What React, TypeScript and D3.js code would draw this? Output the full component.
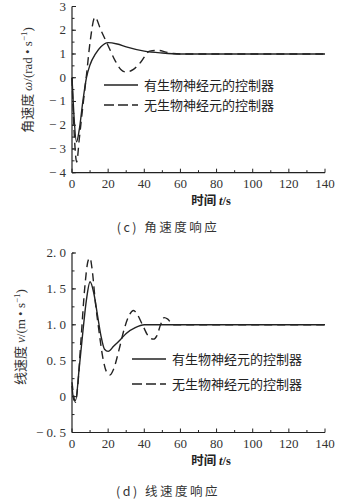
import * as d3 from 'd3'

const timeTicks = [0, 20, 40, 60, 80, 100, 120, 140]
const legendNames = ['有生物神经元的控制器', '无生物神经元的控制器']

// (c) angular velocity
const omegaTicks = [-4, -3, -2, -1, 0, 1, 2, 3]
const omegaBio: [number, number][] = [
  [0, 0], [1, -1.5], [2.5, -2.7], [4, -2.2], [6, -1.0], [8, 0], [10, 0.55], [13, 1.0],
  [16, 1.3], [20, 1.48], [25, 1.42], [30, 1.3], [40, 1.12], [50, 1.04], [60, 1.0], [140, 1.0],
]
const omegaPlain: [number, number][] = [
  [0, 0], [1, -2.0], [2.6, -3.55], [4, -2.6], [6, -1.2], [8, 0.1], [10, 1.5], [12.7, 2.55],
  [16, 2.0], [20, 1.35], [24, 0.7], [27, 0.35], [30, 0.24], [34, 0.35], [38, 0.65], [43, 1.12],
  [48, 1.15], [52, 1.08], [56, 1.02], [60, 1.0], [140, 1.0],
]

// (d) linear velocity
const vTicks = [-0.5, 0, 0.5, 1.0, 1.5, 2.0]
const vBio: [number, number][] = [
  [0, 0.15], [1, -0.05], [2, -0.05], [4, 0.4], [6, 0.9], [8, 1.35], [10, 1.6], [12, 1.45],
  [14, 1.15], [16, 0.85], [18, 0.66], [20, 0.63], [23, 0.7], [27, 0.8], [30, 0.88], [35, 0.96],
  [40, 1.0], [140, 1.0],
]
const vPlain: [number, number][] = [
  [0, 0.2], [1, 0], [2, -0.08], [3, 0.1], [5, 0.8], [7, 1.5], [9, 1.9], [10, 1.93], [11, 1.8],
  [13, 1.3], [15, 0.9], [17, 0.55], [19, 0.35], [21, 0.3], [23, 0.38], [26, 0.65], [29, 0.95],
  [32, 1.15], [34, 1.2], [36, 1.15], [39, 1.0], [42, 0.85], [45, 0.8], [47, 0.85], [49, 1.0],
  [51, 1.1], [53, 1.08], [56, 1.0], [140, 1.0],
]

const serif = { fontFamily: "'Liberation Serif', 'DejaVu Serif', serif" }
const cjk = { fontFamily: "'Noto Sans CJK SC', sans-serif" }

const fmt = (v: number, dec: number) => {
  const s = Math.abs(v).toFixed(v === 0 ? 0 : dec).replace('.', '. ')
  return v < 0 ? '− ' + s : s
}

type PanelProps = {
  top: number
  bottom: number
  yDomain: [number, number]
  yTicks: number[]
  yMinorStep: number
  dec: number
  bio: [number, number][]
  plain: [number, number][]
  yLabel: [string, string, string]
  ylx: number
  yly: number
  legX: number
  legY: [number, number]
  titleY: number
  caption: string
  captionY: number
}

const Panel = (p: PanelProps) => {
  const x = d3.scaleLinear().domain([0, 140]).range([72, 325])
  const y = d3.scaleLinear().domain(p.yDomain).range([p.bottom, p.top])
  const line = d3.line<[number, number]>().x(d => x(d[0])).y(d => y(d[1])).curve(d3.curveMonotoneX)
  const minorY = d3.range(p.yDomain[0], p.yDomain[1] + 1e-9, p.yMinorStep)
  const minorX = d3.range(0, 141, 10)
  const ax = x(0)
  return (
    <g>
      <path d={line(p.plain) ?? ''} fill="none" stroke="#222" strokeWidth={1.4} strokeDasharray="8,5" />
      <path d={line(p.bio) ?? ''} fill="none" stroke="#222" strokeWidth={1.4} />
      <line x1={ax} x2={ax} y1={p.top} y2={p.bottom} stroke="#222" strokeWidth={1.2} />
      <line x1={ax} x2={x(140)} y1={p.bottom} y2={p.bottom} stroke="#222" strokeWidth={1.2} />
      {minorY.map(v => (
        <line key={'my' + v} x1={ax} x2={ax + 2.5} y1={y(v)} y2={y(v)} stroke="#222" />
      ))}
      {p.yTicks.map(v => (
        <g key={'y' + v}>
          <line x1={ax} x2={ax + 4} y1={y(v)} y2={y(v)} stroke="#222" />
          <text x={ax - 6} y={y(v) + 4} textAnchor="end" style={serif} fontSize={13} fill="#333">
            {fmt(v, p.dec)}
          </text>
        </g>
      ))}
      {minorX.map(v => (
        <line key={'mx' + v} x1={x(v)} x2={x(v)} y1={p.bottom} y2={p.bottom - (v % 20 === 0 ? 4 : 2.5)} stroke="#222" />
      ))}
      {timeTicks.map(v => (
        <text key={'x' + v} x={x(v)} y={p.bottom + 15} textAnchor="middle" style={serif} fontSize={13} fill="#333">
          {v}
        </text>
      ))}
      <text
        transform={`translate(${p.ylx},${p.yly}) rotate(-90)`}
        textAnchor="middle"
        fontSize={13}
        fill="#333"
      >
        <tspan style={cjk}>{p.yLabel[0]} </tspan>
        <tspan style={serif} fontStyle="italic">{p.yLabel[1]}</tspan>
        <tspan style={serif}>/(</tspan>
        <tspan style={serif}>{p.yLabel[2]} • s</tspan>
        <tspan style={serif} fontSize={9} dy={-5}>−1</tspan>
        <tspan style={serif} dy={5}>)</tspan>
      </text>
      {legendNames.map((name, i) => (
        <g key={name}>
          <line
            x1={p.legX}
            x2={p.legX + 34}
            y1={p.legY[i]}
            y2={p.legY[i]}
            stroke="#222"
            strokeWidth={1.4}
            strokeDasharray={i === 1 ? '10,4' : undefined}
          />
          <text x={p.legX + 40} y={p.legY[i] + 4.5} style={cjk} fontSize={13} fill="#222">
            {name}
          </text>
        </g>
      ))}
      <text x={211} y={p.titleY} textAnchor="middle" fontSize={12.5} fill="#222" fontWeight="bold">
        <tspan style={cjk}>时间 </tspan>
        <tspan style={serif} fontStyle="italic">t</tspan>
        <tspan style={serif}>/s</tspan>
      </text>
      <text x={168} y={p.captionY} textAnchor="middle" style={cjk} fontSize={12.5} fill="#333" letterSpacing={2.5}>
        {p.caption}
      </text>
    </g>
  )
}

export default function App() {
  return (
    <svg width={352} height={504} style={{ position: 'absolute', left: 0, top: 0, background: '#fff' }}>
      <Panel
        top={6.5}
        bottom={172.7}
        yDomain={[-4, 3]}
        yTicks={omegaTicks}
        yMinorStep={0.5}
        dec={0}
        bio={omegaBio}
        plain={omegaPlain}
        yLabel={['角速度', 'ω', 'rad']}
        ylx={32}
        yly={80}
        legX={104}
        legY={[85, 105]}
        titleY={205}
        caption="(c) 角速度响应"
        captionY={232}
      />
      <Panel
        top={253}
        bottom={432.5}
        yDomain={[-0.5, 2]}
        yTicks={vTicks}
        yMinorStep={0.25}
        dec={1}
        bio={vBio}
        plain={vPlain}
        yLabel={['线速度', 'v', 'm']}
        ylx={25}
        yly={337}
        legX={132}
        legY={[359, 384]}
        titleY={465}
        caption="(d) 线速度响应"
        captionY={496}
      />
    </svg>
  )
}
